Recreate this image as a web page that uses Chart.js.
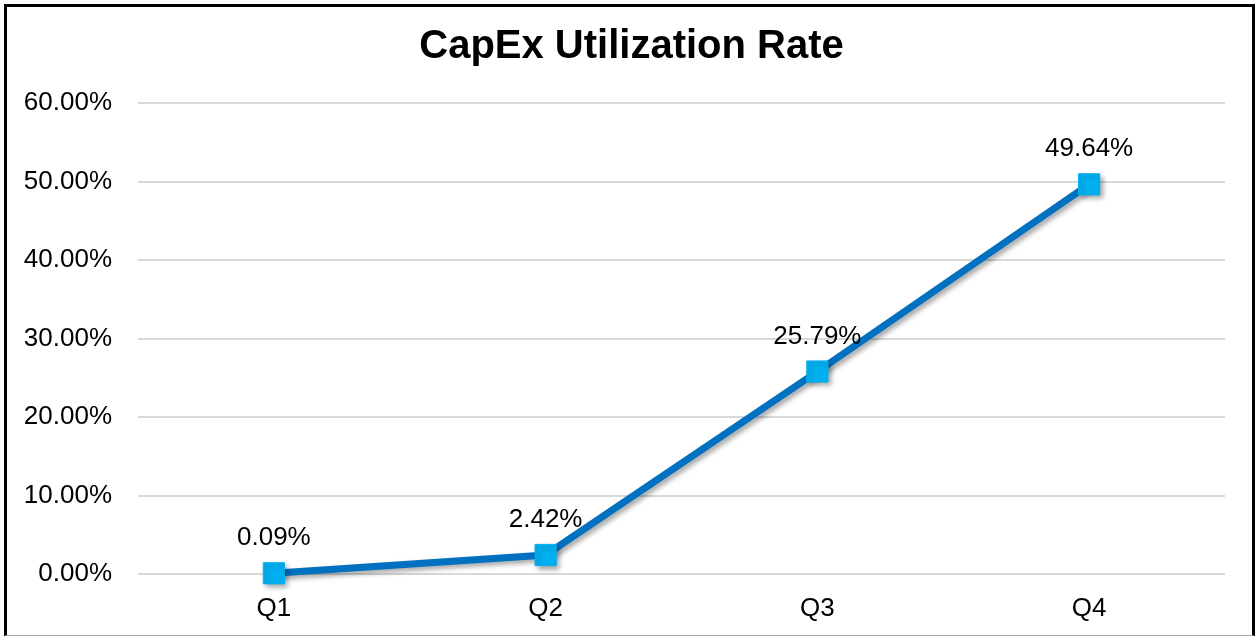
<!DOCTYPE html>
<html lang="en">
<head>
    <meta charset="UTF-8">
    <title>CapEx Utilization Rate</title>
    <style>
        body { margin: 0; background: white; }
        #wrap { position: relative; width: 1257px; height: 636px; }
        #frame { position: absolute; left: 4px; top: 4px; width: 1245px; height: 628px;
                 border-left: 3px solid #000; border-top: 3px solid #000; border-right: 3px solid #000;
                 border-bottom: 1px solid #a6a6a6; pointer-events: none; }
        canvas { position: absolute; left: 0; top: 0; }
    </style>
    <script src="https://cdn.jsdelivr.net/npm/chart.js"></script>
</head>
<body>
    <div id="wrap">
        <canvas id="chart" width="1257" height="636"></canvas>
        <div id="frame"></div>
    </div>

    <script>
        const quarters = ["Q1", "Q2", "Q3", "Q4"];
        const utilization = [0.09, 2.42, 25.79, 49.64];
        const yTicks = [0, 10, 20, 30, 40, 50, 60];
        const titleText = "CapEx Utilization Rate";

        const font = "'Liberation Sans', Arial, sans-serif";

        // soft shadow under the line and markers
        const shadowPlugin = {
            id: "shadow",
            beforeDatasetDraw(chart) {
                const ctx = chart.ctx;
                ctx.save();
                ctx.shadowColor = "rgba(0,0,0,0.35)";
                ctx.shadowBlur = 5;
                ctx.shadowOffsetX = 3;
                ctx.shadowOffsetY = 3;
            },
            afterDatasetDraw(chart) {
                chart.ctx.restore();
            }
        };

        // title centred on the whole frame, not just the padded area
        const frameTitle = {
            id: "frameTitle",
            afterDraw(chart) {
                const ctx = chart.ctx;
                ctx.save();
                ctx.font = "bold 40px " + font;
                ctx.fillStyle = "#000";
                ctx.textAlign = "center";
                ctx.textBaseline = "middle";
                ctx.fillText(titleText, chart.width / 2 + 3, 47);
                ctx.restore();
            }
        };

        // value labels above each point
        const valueLabels = {
            id: "valueLabels",
            afterDatasetsDraw(chart) {
                const ctx = chart.ctx;
                const meta = chart.getDatasetMeta(0);
                ctx.save();
                ctx.font = "26px " + font;
                ctx.fillStyle = "#000";
                ctx.textAlign = "center";
                ctx.textBaseline = "middle";
                meta.data.forEach((pt, i) => {
                    ctx.fillText(utilization[i].toFixed(2) + "%", pt.x, pt.y - 35);
                });
                ctx.restore();
            }
        };

        new Chart(document.getElementById("chart"), {
            type: "line",
            data: {
                labels: quarters,
                datasets: [{
                    data: utilization,
                    borderColor: "#0070C0",
                    borderWidth: 7,
                    pointStyle: "rect",
                    pointRadius: 15,
                    pointHoverRadius: 15,
                    pointBackgroundColor: "#00B0F0",
                    pointBorderColor: "#00B0F0",
                    pointBorderWidth: 1,
                    tension: 0,
                    clip: false
                }]
            },
            options: {
                responsive: false,
                animation: false,
                layout: { padding: { left: 0, right: 32, top: 103, bottom: 0 } },
                plugins: {
                    legend: { display: false },
                    tooltip: { enabled: false },
                    title: { display: false }
                },
                scales: {
                    x: {
                        offset: true,
                        grid: { display: false },
                        border: { display: false },
                        ticks: { color: "#000", font: { family: font, size: 26 }, padding: 11 },
                        afterFit(scale) { scale.height = 62; }
                    },
                    y: {
                        min: 0,
                        max: 60,
                        afterBuildTicks(scale) { scale.ticks = yTicks.map(v => ({ value: v })); },
                        grid: { color: "#d9d9d9", lineWidth: 2, drawTicks: false },
                        border: { display: false },
                        ticks: {
                            color: "#000",
                            font: { family: font, size: 26 },
                            padding: 26,
                            callback: v => v.toFixed(2) + "%"
                        },
                        afterFit(scale) { scale.width = 138; }
                    }
                }
            },
            plugins: [shadowPlugin, valueLabels, frameTitle]
        });
    </script>
</body>
</html>
